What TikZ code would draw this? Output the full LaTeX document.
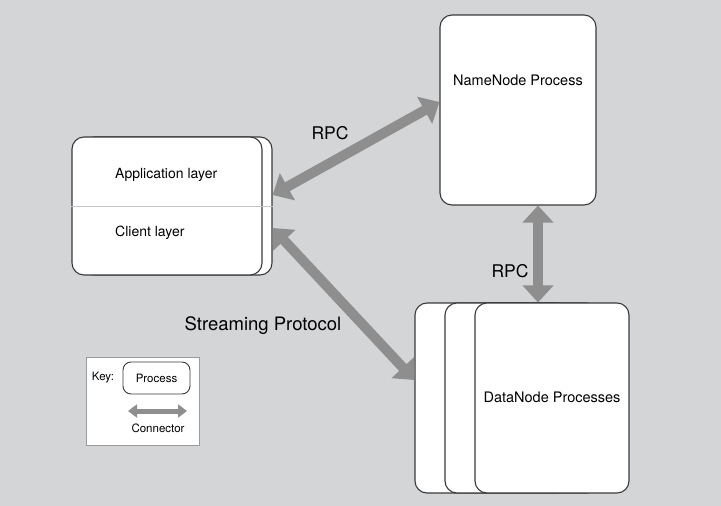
\documentclass[tikz,border=0pt]{standalone}
\usepackage{fontspec}
\setmainfont{TeX Gyre Heros}
\usetikzlibrary{arrows.meta}
\definecolor{bggray}{HTML}{D4D5D7}
\definecolor{arrowgray}{HTML}{8E8E8E}
\definecolor{boxline}{HTML}{3A3A3A}
\definecolor{divline}{HTML}{C4C4C4}
\definecolor{keyline}{HTML}{9A9A9A}
\tikzset{
  procbox/.style={draw=boxline, line width=1.1pt, fill=white, rounded corners=12pt, inner sep=0pt},
  conn/.style={draw=arrowgray, line width=10pt, {Triangle[width=30pt,length=17pt]}-{Triangle[width=30pt,length=17pt]}},
  smallconn/.style={draw=arrowgray, line width=5pt, {Triangle[width=13pt,length=9pt]}-{Triangle[width=13pt,length=9pt]}},
  lbl/.style={text=black, inner sep=0pt},
}
\begin{document}
\begin{tikzpicture}[x=1pt,y=-1pt]
\fill[bggray] (0,0) rectangle (721,506);
\useasboundingbox (0,0) rectangle (721,506);

% client box
\node[procbox, minimum width=190pt, minimum height=138pt] (clientback) at (177,206) {};
\node[procbox, minimum width=190pt, minimum height=138pt] (client) at (167,206) {};
\draw[divline, line width=1pt] (client.west) -- (clientback.east);
\node[lbl, anchor=west, font=\fontsize{14}{16}\selectfont] (app) at (115,175) {Application layer};
\node[lbl, anchor=west, font=\fontsize{14}{16}\selectfont] (cli) at (115,233) {Client layer};

% NameNode
\node[procbox, minimum width=156pt, minimum height=190pt] (name) at (518,110) {};
\node[lbl, font=\fontsize{14.5}{17}\selectfont] (nametext) at (518,80) {NameNode Process};

% DataNodes
\node[procbox, minimum width=154pt, minimum height=190pt] (dn1) at (492,398) {};
\node[procbox, minimum width=154pt, minimum height=190pt] (dn2) at (522,398) {};
\node[procbox, minimum width=154pt, minimum height=190pt] (dn3) at (552,398) {};
\node[lbl, font=\fontsize{14.5}{17}\selectfont] (dntext) at (552,397) {DataNode Processes};

% connectors
\draw[conn] ([yshift=11pt]clientback.east) -- ([yshift=8pt]name.west);
\draw[conn] ([xshift=20pt]name.south) -- ([xshift=20pt]name.south |- dn3.north);
\draw[conn] ([yshift=-22pt]clientback.east) -- ([yshift=18pt]dn1.west);

\node[lbl, font=\fontsize{17.5}{20}\selectfont] (rpc1) at (330,133) {RPC};
\node[lbl, font=\fontsize{17.5}{20}\selectfont] (rpc2) at (510,271) {RPC};
\node[lbl, font=\fontsize{18.5}{21}\selectfont] (stream) at (263,326) {Streaming Protocol};

% key
\node[draw=keyline, line width=0.8pt, fill=white, minimum width=113pt, minimum height=88pt, inner sep=0pt] (key) at (142.5,401) {};
\node[lbl, font=\fontsize{11.5}{13}\selectfont] (keytext) at (103,378) {Key:};
\node[draw=boxline, line width=0.9pt, fill=white, rounded corners=8pt, minimum width=67pt, minimum height=32pt, inner sep=0pt, font=\fontsize{11.5}{13}\selectfont, text=black] (keyproc) at (156.5,378) {Process};
\coordinate (kl) at (128,411);
\coordinate (kr) at (187,411);
\draw[smallconn] (kl) -- (kr);
\node[lbl, font=\fontsize{11.5}{13}\selectfont] (conntext) at (158,428) {Connector};
\end{tikzpicture}
\end{document}
